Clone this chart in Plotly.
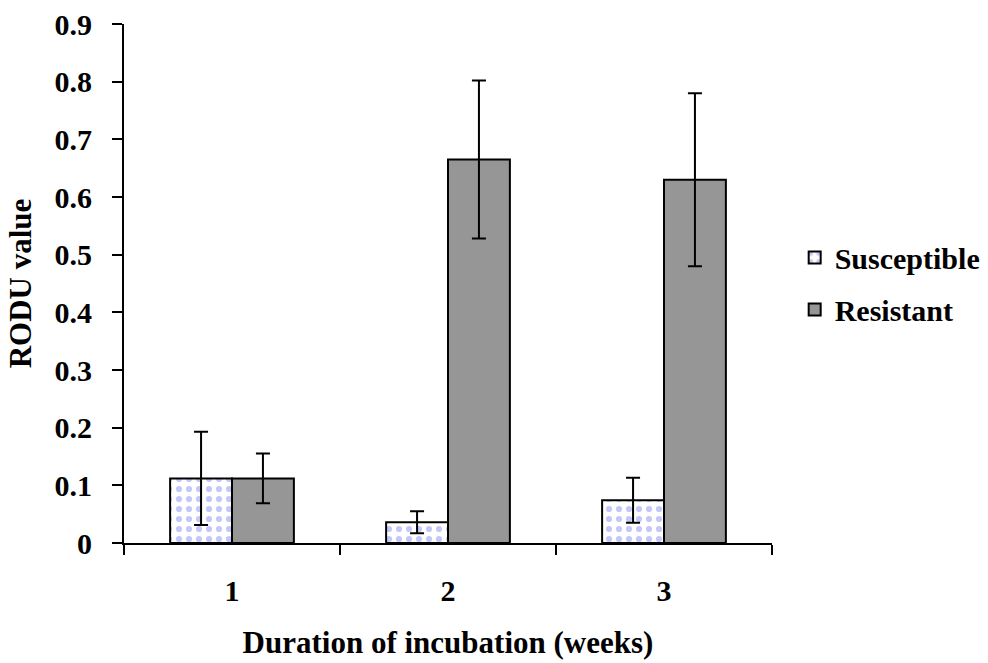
import plotly.graph_objects as go

categories = ["1", "2", "3"]
susceptible = [0.112, 0.036, 0.074]
susceptible_err = [0.081, 0.019, 0.039]
resistant = [0.112, 0.665, 0.630]
resistant_err = [0.043, 0.137, 0.150]
y_ticks = [0, 0.1, 0.2, 0.3, 0.4, 0.5, 0.6, 0.7, 0.8, 0.9]
y_ticklabels = ["0", "0.1", "0.2", "0.3", "0.4", "0.5", "0.6", "0.7", "0.8", "0.9"]

FONT = "Times New Roman, Liberation Serif, serif"

fig = go.Figure()
fig.add_trace(go.Bar(
    name="Susceptible", x=categories, y=susceptible, legendgroup="s",
    marker=dict(color="white", line=dict(color="black", width=2),
                pattern=dict(shape=".", fgcolor="#8a92f2", bgcolor="white",
                             size=10, solidity=0.3)),
    error_y=dict(type="data", array=susceptible_err, color="black",
                 thickness=2, width=7),
))
fig.add_trace(go.Bar(
    name="Resistant", x=categories, y=resistant, legendgroup="r",
    marker=dict(color="#969696", line=dict(color="black", width=2)),
    error_y=dict(type="data", array=resistant_err, color="black",
                 thickness=2, width=7),
))

fig.update_layout(
    width=988, height=663,
    margin=dict(l=124, r=216, t=24, b=120, autoexpand=False),
    paper_bgcolor="white", plot_bgcolor="white",
    barmode="group", bargap=0.427, bargroupgap=0,
    font=dict(family=FONT, size=30, color="black", weight="bold"),
    showlegend=True,
    legend=dict(x=1.035, y=0.5, xanchor="left", yanchor="middle",
                font=dict(family=FONT, size=30, color="black", weight="bold"),
                tracegroupgap=10, traceorder="grouped",
                bgcolor="rgba(0,0,0,0)"),
    xaxis=dict(
        type="category", showline=True, linecolor="black", linewidth=2,
        ticks="outside", ticklen=10, tickwidth=2, tickcolor="black",
        tickson="boundaries", showgrid=False, zeroline=False,
        ticklabelstandoff=20, automargin=False,
        title=dict(text="Duration of incubation (weeks)", standoff=25,
                   font=dict(family=FONT, size=31, weight="bold")),
        tickfont=dict(family=FONT, size=30, weight="bold"),
    ),
    yaxis=dict(
        range=[0, 0.9], tickvals=y_ticks, ticktext=y_ticklabels,
        showline=True, linecolor="black", linewidth=2,
        ticks="outside", ticklen=10, tickwidth=2, tickcolor="black",
        showgrid=False, zeroline=False, ticklabelstandoff=14,
        automargin=False,
        title=dict(text="RODU value", standoff=14,
                   font=dict(family=FONT, size=31, weight="bold")),
        tickfont=dict(family=FONT, size=30, weight="bold"),
    ),
)

fig.write_html("out.html")
